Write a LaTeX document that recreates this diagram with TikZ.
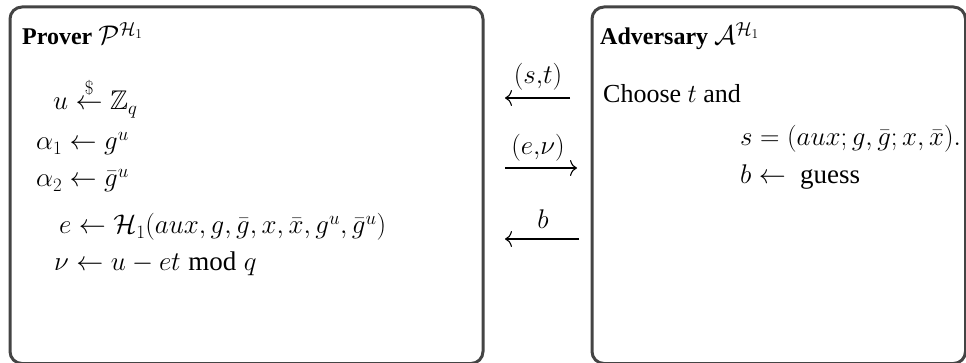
\documentclass[tikz,border=0pt]{standalone}
\usepackage{fix-cm}
\usepackage{amsmath,amssymb}
\usepackage{fontspec}
\setmainfont{Liberation Serif}
\usetikzlibrary{arrows.meta}
\definecolor{boxgray}{HTML}{444444}
\newcommand{\bigmath}[1]{{\fontsize{27}{32}\selectfont$#1$}}
\begin{document}
\begin{tikzpicture}[x=1pt,y=-1pt,
  panel/.style={draw=boxgray,line width=3pt,rounded corners=12pt,inner sep=0pt},
  title/.style={anchor=base west,inner sep=0pt,font=\fontsize{24}{29}\selectfont\bfseries},
  body/.style={anchor=base west,inner sep=0pt,font=\fontsize{26}{31}\selectfont},
  mline/.style={anchor=base west,inner sep=0pt,font=\fontsize{27}{32}\selectfont},
  lbl/.style={inner sep=0pt,font=\fontsize{27}{32}\selectfont},
  msg/.style={draw=black,line width=1.1pt,-{Computer Modern Rightarrow[length=7pt,width=16pt]}}]
\useasboundingbox (0,0) rectangle (966,363);
% panels
\node[panel,anchor=north west,minimum width=473pt,minimum height=356.5pt] (prover) at (8.5,5.5) {};
\node[panel,anchor=north west,minimum width=373.5pt,minimum height=356.5pt] (adv) at (590.5,5.5) {};
% prover
\node[title] (provt) at (22,45) {Prover \bigmath{\mathcal{P}^{\mathcal{H}_1}}};
\node[mline] (pl1) at (53,110) {$u\stackrel{\$}{\leftarrow}\mathbb{Z}_q$};
\node[mline] (pl2) at (36,150) {$\alpha_1\leftarrow g^u$};
\node[mline] (pl3) at (36,187) {$\alpha_2\leftarrow \bar g^u$};
\node[mline] (pl4) at (59,234) {$e\leftarrow \mathcal{H}_1(aux,g,\bar g,x,\bar x,g^u,\bar g^u)$};
\node[mline] (pl5) at (54,271) {$\nu\leftarrow u-et \bmod q$};
% adversary
\node[title] (advt) at (600,45) {Adversary \bigmath{\mathcal{A}^{\mathcal{H}_1}}};
\node[body] (al1) at (603,103) {Choose $t$ and};
\node[mline] (al2) at (740,146) {$s=(aux;g,\bar g;x,\bar x).$};
\node[mline] (al3) at (740,184) {$b\leftarrow{}$\ guess};
% messages
\coordinate (m1r) at (570,98);
\coordinate (m1l) at (505,98);
\coordinate (m2l) at (505,168);
\coordinate (m2r) at (577,168);
\coordinate (m3r) at (579,239);
\coordinate (m3l) at (505,239);
\draw[msg] (m1r) -- (m1l);
\draw[msg] (m2l) -- (m2r);
\draw[msg] (m3r) -- (m3l);
\node[lbl] (lab1) at (538,77) {$(s{,}t)$};
\node[lbl] (lab2) at (538,148) {$(e{,}\nu)$};
\node[lbl] (lab3) at (543,219) {$b$};
\end{tikzpicture}
\end{document}
